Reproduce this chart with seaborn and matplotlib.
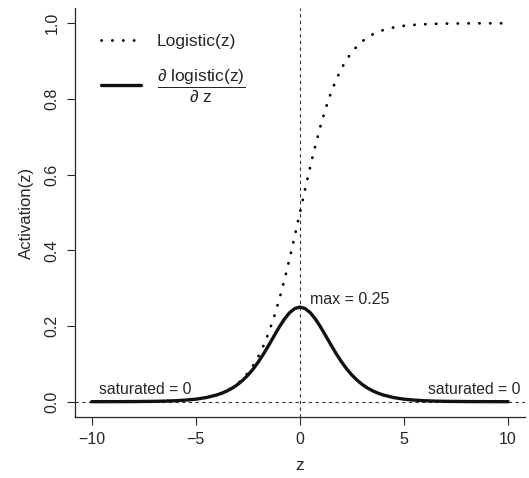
import matplotlib
matplotlib.use("Agg")
import matplotlib.pyplot as plt
import seaborn as sns
import pandas as pd

# data
z = [-10, -9.5, -9, -8.5, -8, -7.5, -7, -6.5, -6, -5.5, -5, -4.5, -4,
     -3.75, -3.5, -3.25, -3, -2.75, -2.5, -2.25, -2, -1.75, -1.5, -1.25, -1, -0.75, -0.5, -0.25,
     0, 0.25, 0.5, 0.75, 1, 1.25, 1.5, 1.75, 2, 2.25, 2.5, 2.75, 3, 3.25, 3.5, 3.75,
     4, 4.5, 5, 5.5, 6, 6.5, 7, 7.5, 8, 8.5, 9, 9.5, 10]
logistic = [0.0000, 0.0001, 0.0001, 0.0002, 0.0003, 0.0006, 0.0009, 0.0015, 0.0025, 0.0041, 0.0067, 0.0110, 0.0180,
            0.0230, 0.0293, 0.0373, 0.0474, 0.0601, 0.0759, 0.0953, 0.1192, 0.1480, 0.1824, 0.2227, 0.2689, 0.3208, 0.3775, 0.4378,
            0.5000, 0.5622, 0.6225, 0.6792, 0.7311, 0.7773, 0.8176, 0.8520, 0.8808, 0.9047, 0.9241, 0.9399, 0.9526, 0.9627, 0.9707, 0.9770,
            0.9820, 0.9890, 0.9933, 0.9959, 0.9975, 0.9985, 0.9991, 0.9994, 0.9997, 0.9998, 0.9999, 0.9999, 1.0000]
deriv = [0.0000, 0.0001, 0.0001, 0.0002, 0.0003, 0.0006, 0.0009, 0.0015, 0.0025, 0.0041, 0.0066, 0.0109, 0.0177,
         0.0225, 0.0285, 0.0359, 0.0452, 0.0565, 0.0701, 0.0862, 0.1050, 0.1261, 0.1491, 0.1731, 0.1966, 0.2179, 0.2350, 0.2461,
         0.2500, 0.2461, 0.2350, 0.2179, 0.1966, 0.1731, 0.1491, 0.1261, 0.1050, 0.0862, 0.0701, 0.0565, 0.0452, 0.0359, 0.0285, 0.0225,
         0.0177, 0.0109, 0.0066, 0.0041, 0.0025, 0.0015, 0.0009, 0.0006, 0.0003, 0.0002, 0.0001, 0.0001, 0.0000]

df = pd.DataFrame({"z": z, "logistic": logistic, "deriv": deriv})

sns.set_style("ticks")
plt.rcParams["font.family"] = ["Liberation Sans", "DejaVu Sans"]
plt.rcParams["mathtext.fontset"] = "custom"
plt.rcParams["mathtext.rm"] = "Liberation Sans"
plt.rcParams["mathtext.it"] = "Liberation Sans:italic"

fig = plt.figure(figsize=(5.29, 4.78), dpi=100)
ax = fig.add_axes([0.142, 0.128, 0.85, 0.855])

ax.axvline(0, color="#333333", lw=0.8, ls=(0, (3, 3)), zorder=1)
ax.axhline(0, color="#333333", lw=0.8, ls=(0, (3, 3)), zorder=1)

sns.lineplot(data=df, x="z", y="logistic", ax=ax, color="black", lw=2.0,
             linestyle=(0, (0.1, 3.8)), dash_capstyle="round", label="Logistic(z)")
sns.lineplot(data=df, x="z", y="deriv", ax=ax, color="#111111", lw=2.4,
             label=r"$\dfrac{\partial\ \mathrm{logistic(z)}}{\partial\ \mathrm{z}}$")

ax.text(0.5, 0.27, "max = 0.25", fontsize=11.5, ha="left", va="center")
ax.text(-9.65, 0.032, "saturated = 0", fontsize=11.3, ha="left", va="center")
ax.text(10.6, 0.032, "saturated = 0", fontsize=11.3, ha="right", va="center")

ax.set_xlim(-10.8, 10.8)
ax.set_ylim(-0.04, 1.04)
ax.set_xticks([-10, -5, 0, 5, 10])
ax.set_xticklabels(["\u221210", "\u22125", "0", "5", "10"])
ax.set_yticks([0, 0.2, 0.4, 0.6, 0.8, 1.0])
ax.set_yticklabels(["0.0", "0.2", "0.4", "0.6", "0.8", "1.0"], rotation=90, va="center")
ax.tick_params(axis="both", labelsize=11.5, length=6, width=0.8, direction="out", pad=5)
ax.set_xlabel("z", fontsize=12.5, labelpad=8)
ax.set_ylabel("Activation(z)", fontsize=12, labelpad=8)

sns.despine(ax=ax)
for s in ["left", "bottom"]:
    ax.spines[s].set_linewidth(0.9)

ax.legend(loc="upper left", frameon=False, fontsize=12.5, handlelength=2.3,
          handletextpad=0.9, borderaxespad=1.1, labelspacing=1.0)

fig.savefig("out.png", dpi=100)
